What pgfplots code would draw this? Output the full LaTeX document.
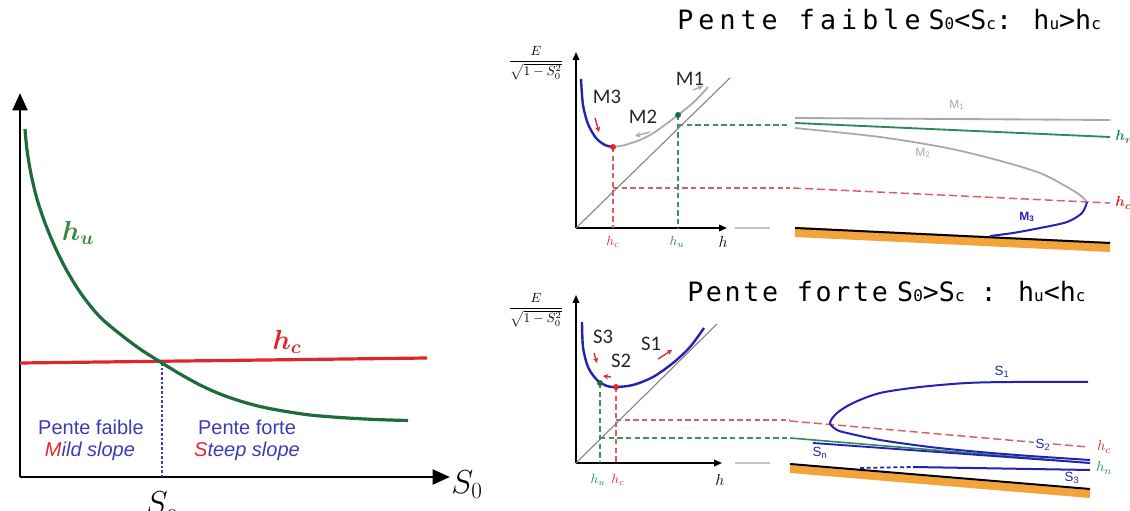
\documentclass[border=0pt]{standalone}
\usepackage{fontspec}
\usepackage{amsmath}
\usepackage{bm}
\usepackage{pgfplots}
\pgfplotsset{compat=1.18}
\usetikzlibrary{arrows.meta}
\newfontfamily\arialf{Liberation Sans}
\newfontfamily\calib{Carlito}
\newfontfamily\monof{DejaVu Sans Mono}
\definecolor{cgreen}{HTML}{1F6B3B}
\definecolor{ctgreen}{HTML}{3A8A3A}
\definecolor{cred}{HTML}{E0262B}
\definecolor{ctblue}{HTML}{3C3CB4}
\definecolor{cblue}{HTML}{2222B4}
\definecolor{cgrey}{HTML}{A8A8A8}
\definecolor{corange}{HTML}{F2A33A}
\definecolor{cdred}{HTML}{E8595C}
\definecolor{cdgreen}{HTML}{3F8F5F}
\definecolor{cpgreen}{HTML}{2E8B57}
\newcommand{\sbx}[1]{{\fontsize{12}{12}\selectfont #1}}
\pgfplotsset{pxaxis/.style={scale only axis, clip=false, xtick=\empty, ytick=\empty, anchor=south west}}
\tikzset{dsh/.style={dash pattern=on 4pt off 2.5pt, line width=0.8pt}}
\begin{document}
\begin{tikzpicture}
\path[use as bounding box] (0,0) rectangle (847.5pt,382.5pt);

% ---------- background axis (profiles, titles) ----------
\begin{axis}[pxaxis, hide axis, xmin=0, xmax=1130, ymin=0, ymax=510,
  width=847.5pt, height=382.5pt, at={(0pt,0pt)}]
% titles
\node[anchor=base west, inner sep=0pt] at (677,480)
  {\monof\fontsize{20}{24}\selectfont{\addfontfeature{LetterSpace=19}Pente faible}\hspace{6pt}S\sbx{0}<S\sbx{c}: h\sbx{u}>h\sbx{c}};
\node[anchor=base west, inner sep=0pt] at (687,208)
  {\monof\fontsize{20}{24}\selectfont{\addfontfeature{LetterSpace=10}Pente forte}\hspace{7pt}S\sbx{0}>S\sbx{c} : h\sbx{u}<h\sbx{c}};
% connectors
\addplot[cgrey!70, line width=0.8pt] coordinates {(735,282) (770,282)};
\addplot[cgrey!70, line width=0.8pt] coordinates {(735,47) (770,47)};
% ---- top profile ----
\addplot[corange, line width=7.5pt] coordinates {(795,278) (1110,263)};
\addplot[black, line width=1.5pt] coordinates {(795,282) (1110,267)};
\addplot[cgrey, line width=1.4pt] coordinates {(795,392) (1110,390)};
\addplot[cpgreen, line width=1.4pt] coordinates {(795,387) (1110,373)};
\addplot[cdred, dash pattern=on 6pt off 3pt, line width=1.1pt] coordinates {(793,322) (1110,307)};
\addplot[cgrey, line width=1.3pt, smooth] coordinates {(795,382) (880,373) (947,362) (997,350) (1040,337) (1067,323) (1080,315) (1087,308)};
\addplot[cblue, line width=1.5pt, smooth] coordinates {(1087,308) (1082,297) (1067,288) (1040,282) (1013,277) (990,274)};
\node[cgrey, font=\arialf\fontsize{9}{10}\selectfont] at (957,405) {M\textsubscript{1}};
\node[cgrey, font=\arialf\fontsize{9}{10}\selectfont] at (923,357) {M\textsubscript{2}};
\node[cblue, font=\arialf\bfseries\fontsize{9}{10}\selectfont] at (1027,293) {M\textsubscript{3}};
\node[cred, anchor=west, inner sep=0pt] at (1115,307) {\fontsize{11}{12}\selectfont$\bm{h_c}$};
\node[cpgreen, anchor=west, inner sep=0pt] at (1115,373) {\fontsize{11}{12}\selectfont$\bm{h_n}$};
% ---- bottom profile ----
\addplot[corange, line width=6pt] coordinates {(790,41) (1090,16)};
\addplot[black, line width=1.5pt] coordinates {(790,46) (1090,21)};
\addplot[cdred, dash pattern=on 6pt off 3pt, line width=1.1pt] coordinates {(790,89) (1088,63)};
\addplot[cpgreen, line width=1.2pt] coordinates {(790,72) (1090,47)};
\addplot[cblue, line width=1.4pt] coordinates {(813,67) (1090,47)};
\addplot[cblue, line width=1.5pt, smooth] coordinates {(1088,128) (1013,128) (967,127) (920,123) (880,117) (853,107) (837,97) (830,87) (837,80) (847,77) (880,70) (930,63) (980,58) (1030,54) (1090,50)};
\addplot[cblue, line width=1.3pt, dash pattern=on 3pt off 2pt] coordinates {(860,42) (913,43)};
\addplot[cblue, line width=1.5pt] coordinates {(913,43) (1090,40)};
\node[cblue, font=\arialf\fontsize{10}{11}\selectfont] at (1002,138) {S\textsubscript{1}};
\node[cblue, fill=white, inner sep=1pt, font=\arialf\fontsize{10}{11}\selectfont] at (1043,65) {S\textsubscript{2}};
\node[cblue, font=\arialf\fontsize{10}{11}\selectfont] at (1072,32) {S\textsubscript{3}};
\node[cblue, font=\arialf\fontsize{10}{11}\selectfont] at (820,57) {S\textsubscript{n}};
\node[cred] at (1104,63) {\fontsize{11}{12}\selectfont$h_c$};
\node[cpgreen] at (1104,42) {\fontsize{11}{12}\selectfont$h_n$};
\end{axis}

% ---------- left chart ----------
\begin{axis}[pxaxis, xmin=20, xmax=450, ymin=33, ymax=417,
  width=322.5pt, height=288pt, at={(15pt,24.75pt)},
  axis lines=left,
  axis line style={line width=2.2pt, -{Triangle[length=13pt,width=11pt]}}]
\addplot[ctblue, dash pattern=on 2pt off 1.5pt, line width=0.8pt] coordinates {(162,147) (162,33)};
\addplot[cred, line width=2.4pt] coordinates {(20,147) (427,152)};
\addplot[cgreen, line width=2.4pt, smooth] coordinates {
 (25,381) (27,360) (31,336) (37,311) (45,287) (55,263) (67,239) (82,215)
 (100,193) (120,176) (140,161) (162,147) (180,136) (200,125) (220,116)
 (240,109) (260,103.5) (283,99) (310,95) (340,92.5) (375,90.5) (408,89.5)};
\node[ctgreen] at (78,277) {\fontsize{20}{24}\selectfont$\bm{h_u}$};
\node[cred] at (287,168) {\fontsize{20}{24}\selectfont$\bm{h_c}$};
\node at (467,25) {\fontsize{24}{28}\selectfont$S_0$};
\node at (161,4) {\fontsize{24}{28}\selectfont$S_c$};
\node[ctblue, font=\arialf\fontsize{15}{18}\selectfont] at (91,83) {Pente faible};
\node[ctblue, font=\arialf\itshape\fontsize{15}{18}\selectfont] at (90,59) {{\color{cred}M}ild slope};
\node[ctblue, font=\arialf\fontsize{15}{18}\selectfont] at (247,83) {Pente forte};
\node[ctblue, font=\arialf\itshape\fontsize{15}{18}\selectfont] at (247,59) {{\color{cred}S}teep slope};
\end{axis}

% ---------- top energy diagram ----------
\begin{axis}[pxaxis, xmin=576, xmax=727, ymin=282, ymax=458,
  width=113.25pt, height=132pt, at={(432pt,211.5pt)},
  axis lines=left,
  axis line style={line width=1.1pt, -{Triangle[length=6pt,width=5pt]}}]
\addplot[cdred, dsh] coordinates {(613,363) (613,282)};
\addplot[cdred, dsh] coordinates {(613,322) (790,322)};
\addplot[cdgreen, dsh] coordinates {(678,395) (678,282)};
\addplot[cdgreen, dsh] coordinates {(678,385) (790,385)};
\addplot[gray, line width=0.8pt] coordinates {(576,282) (730,432)};
\addplot[cblue, line width=1.8pt, smooth] coordinates {(581,431) (583,405) (588,386) (596,372) (605,365) (613,363)};
\addplot[cgrey, line width=1.3pt, smooth] coordinates {(613,363) (625,365) (640,370) (655,378) (678,395) (695,409) (708,423)};
\addplot[only marks, mark=*, mark size=2pt, color=cred] coordinates {(613,363)};
\addplot[only marks, mark=*, mark size=2pt, color=cgreen] coordinates {(678,395)};
\addplot[cred, line width=1pt, -{Stealth[length=4pt,width=4pt]}] coordinates {(595,392) (599,378)};
\addplot[cgrey, line width=1pt, -{Stealth[length=4pt,width=4pt]}] coordinates {(650,378) (635,374)};
\addplot[cgrey, line width=1pt, -{Stealth[length=4pt,width=4pt]}] coordinates {(693,420) (703,424)};
\node[font=\calib\fontsize{15.5}{17}\selectfont, text=black!85] at (607,413) {M3};
\node[font=\calib\fontsize{15.5}{17}\selectfont, text=black!85] at (643,393) {M2};
\node[font=\calib\fontsize{15.5}{17}\selectfont, text=black!85] at (690,431) {M1};
\node at (536,447) {\fontsize{10}{12}\selectfont$\dfrac{E}{\sqrt{1-S_0^2}}$};
\node at (723,268) {\fontsize{12}{14}\selectfont$h$};
\node[cred] at (613,268) {\fontsize{10}{12}\selectfont$h_c$};
\node[cpgreen] at (677,268) {\fontsize{10}{12}\selectfont$h_u$};
\end{axis}

% ---------- bottom energy diagram ----------
\begin{axis}[pxaxis, xmin=576, xmax=722, ymin=47, ymax=215,
  width=109.5pt, height=126pt, at={(432pt,35.25pt)},
  axis lines=left,
  axis line style={line width=1.1pt, -{Triangle[length=6pt,width=5pt]}}]
\addplot[cdred, dsh] coordinates {(616,123) (616,47)};
\addplot[cdred, dsh] coordinates {(616,90) (790,90)};
\addplot[cdgreen, dsh] coordinates {(600,127) (600,47)};
\addplot[cdgreen, dsh] coordinates {(600,72) (790,72)};
\addplot[gray, line width=0.8pt] coordinates {(576,47) (717,186)};
\addplot[cblue, line width=1.8pt, smooth] coordinates {(582,188) (583,163) (588,143) (597,130) (607,124) (616,123) (633,125) (653,133) (673,147) (690,163) (704,182)};
\addplot[only marks, mark=*, mark size=2pt, color=cred] coordinates {(616,123)};
\addplot[only marks, mark=*, mark size=2pt, color=cgreen] coordinates {(600,127)};
\addplot[cred, line width=1pt, -{Stealth[length=4pt,width=4pt]}] coordinates {(594,157) (597,147)};
\addplot[cred, line width=1pt, -{Stealth[length=4pt,width=4pt]}] coordinates {(611,133) (603,134)};
\addplot[cred, line width=1pt, -{Stealth[length=4pt,width=4pt]}] coordinates {(658,151) (672,160)};
\node[font=\calib\fontsize{15.5}{17}\selectfont, text=black!85] at (603,173) {S3};
\node[font=\calib\fontsize{15.5}{17}\selectfont, text=black!85] at (621,149) {S2};
\node[font=\calib\fontsize{15.5}{17}\selectfont, text=black!85] at (651,166) {S1};
\node at (536,200) {\fontsize{10}{12}\selectfont$\dfrac{E}{\sqrt{1-S_0^2}}$};
\node at (720,30) {\fontsize{12}{14}\selectfont$h$};
\node[cred] at (618,30) {\fontsize{10}{12}\selectfont$h_c$};
\node[cpgreen] at (598,30) {\fontsize{10}{12}\selectfont$h_u$};
\end{axis}
\end{tikzpicture}
\end{document}
